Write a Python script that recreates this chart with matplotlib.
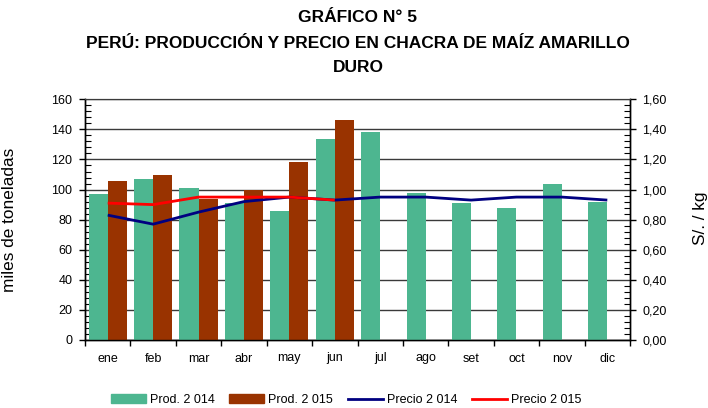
import numpy as np
import matplotlib
matplotlib.use("Agg")
import matplotlib.pyplot as plt
from matplotlib.ticker import MultipleLocator, FuncFormatter
from matplotlib.patches import Patch
from matplotlib.lines import Line2D

plt.rcParams['font.family'] = ['Liberation Sans', 'DejaVu Sans']

months = ["ene", "feb", "mar", "abr", "may", "jun", "jul", "ago", "set", "oct", "nov", "dic"]
prod_2014 = [97, 107, 101, 91, 86, 133.5, 138, 98, 91, 88, 104, 92]
prod_2015 = [106, 110, 94, 100, 118, 146, np.nan, np.nan, np.nan, np.nan, np.nan, np.nan]
precio_2014 = [0.83, 0.77, 0.85, 0.92, 0.95, 0.93, 0.95, 0.95, 0.93, 0.95, 0.95, 0.93]
precio_2015 = [0.91, 0.90, 0.95, 0.95, 0.95, 0.93]

title_lines = ["GRÁFICO N° 5", "PERÚ: PRODUCCIÓN Y PRECIO EN CHACRA DE MAÍZ AMARILLO", "DURO"]
legend_labels = ["Prod. 2 014", "Prod. 2 015", "Precio 2 014", "Precio 2 015"]

c_green = "#4DB690"
c_brown = "#993300"
c_blue = "#000080"
c_red = "#FF0000"

W, H = 708, 408
fig = plt.figure(figsize=(W / 100, H / 100), dpi=100)
left, right, top, bottom = 85, 630, 99.3, 340
ax = fig.add_axes([left / W, 1 - bottom / H, (right - left) / W, (bottom - top) / H])
ax2 = ax.twinx()

x = np.arange(len(months))
bw = 0.42
ax.bar(x - 0.21, prod_2014, width=bw, color=c_green, zorder=3)
ax.bar(x + 0.21, prod_2015, width=bw, color=c_brown, zorder=3)

ax.set_xlim(-0.5, len(months) - 0.5)
ax.set_ylim(0, 160)
ax.yaxis.set_major_locator(MultipleLocator(20))
ax.yaxis.set_minor_locator(MultipleLocator(4))
ax.grid(axis='y', which='major', color='#3a3a3a', lw=1.0, zorder=1)
ax.set_axisbelow(True)

# x ticks: boundaries as major ticks, labels at centers
ax.set_xticks(np.arange(-0.5, len(months) + 0.5, 1))
ax.set_xticklabels([])
ax.set_xticks(x, minor=True)
ax.set_xticklabels(months, minor=True, fontsize=9)
ax.tick_params(axis='x', which='major', direction='out', length=4, width=1, color='black')
ax.tick_params(axis='x', which='minor', length=0, pad=9)
ax.tick_params(axis='y', which='major', direction='out', length=4, width=1, labelsize=9, pad=5)
ax.tick_params(axis='y', which='minor', direction='in', length=4, width=0.8)

ax2.set_ylim(0, 1.6)
ax2.yaxis.set_major_locator(MultipleLocator(0.2))
ax2.yaxis.set_minor_locator(MultipleLocator(0.04))
ax2.yaxis.set_major_formatter(FuncFormatter(lambda v, p: f"{v:.2f}".replace(".", ",")))
ax2.tick_params(axis='y', which='major', direction='out', length=4, width=1, labelsize=9, pad=5)
ax2.tick_params(axis='y', which='minor', direction='in', length=4, width=0.8)

ax2.plot(x, precio_2014, color=c_blue, lw=2.0, zorder=4, solid_capstyle='butt')
ax2.plot(x[:len(precio_2015)], precio_2015, color=c_red, lw=2.0, zorder=5, solid_capstyle='butt')

for a in (ax, ax2):
    a.spines['top'].set_color('#3a3a3a')
    a.spines['left'].set_color('black')
    a.spines['right'].set_color('black')
    a.spines['bottom'].set_color('black')
    a.spines['left'].set_linewidth(1.0)
    a.spines['right'].set_linewidth(1.0)
    a.spines['bottom'].set_linewidth(1.0)

ax.set_ylabel("miles de toneladas", fontsize=12.4)
ax.yaxis.set_label_coords((17 - left) / (right - left), 0.5)
fig.text(700 / W, 1 - 218 / H, "S/. / kg", rotation=90, ha='center', va='center', fontsize=12.4)

ys = [18, 44, 67]
for t, yy in zip(title_lines, ys):
    fig.text(358 / W, 1 - yy / H, t, ha='center', va='center', fontsize=12.5, fontweight='bold')

handles = [Patch(color=c_green), Patch(color=c_brown),
           Line2D([], [], color=c_blue, lw=2), Line2D([], [], color=c_red, lw=2)]
fig.legend(handles, legend_labels, loc='center', bbox_to_anchor=(346 / W, 1 - 400 / H), ncol=4,
           frameon=False, fontsize=9, handlelength=2.8, handletextpad=0.3, columnspacing=1.2,
           handleheight=0.65, borderaxespad=0, borderpad=0)

fig.savefig("out.png", dpi=100)
